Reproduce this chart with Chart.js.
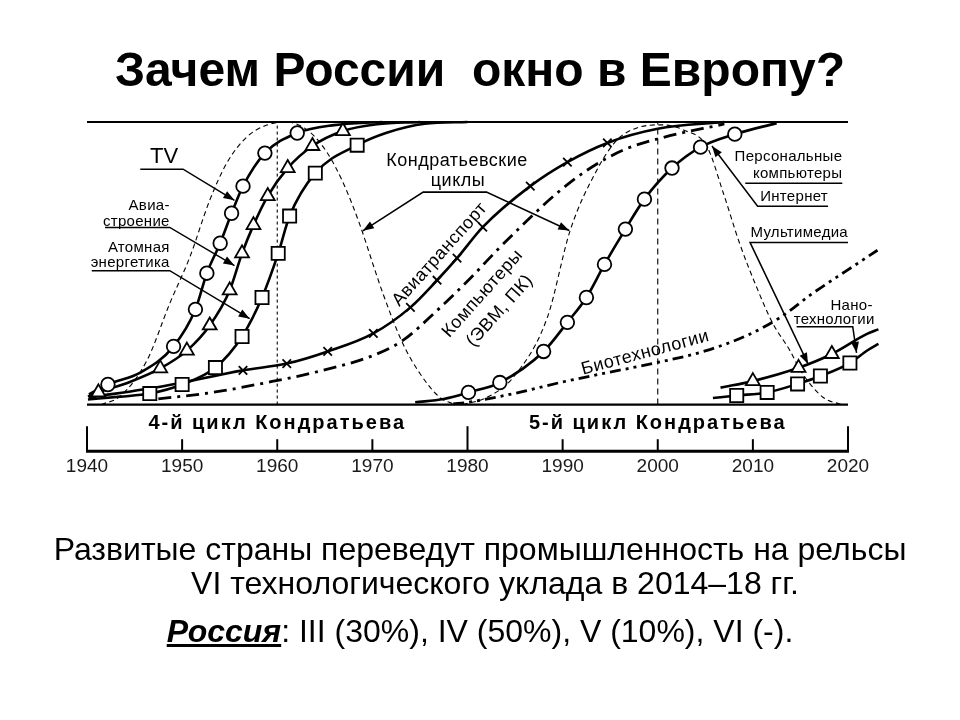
<!DOCTYPE html>
<html lang="ru">
<head>
<meta charset="utf-8">
<title>Зачем России окно в Европу?</title>
<script src="https://cdn.jsdelivr.net/npm/chart.js@4.4.1/dist/chart.umd.min.js"></script>
<style>
  html, body { margin: 0; padding: 0; background: #fff; }
  #page { position: relative; width: 960px; height: 720px; overflow: hidden;
          font-family: "Liberation Sans", Arial, sans-serif; color: #000; }
  #page canvas { position: absolute; left: 0; top: 0; }
  .title { position: absolute; left: 0; top: 42px; width: 960px; text-align: center;
           font-size: 48px; font-weight: bold; line-height: 56px; white-space: pre; }
  .line { position: absolute; left: 0; width: 960px; text-align: center;
          font-size: 32px; line-height: 36px; white-space: pre; }
</style>
</head>
<body>
<div id="page">
  <canvas id="chart" width="960" height="720"></canvas>
  <div class="title">Зачем России  окно в Европу?</div>
  <div class="line" style="top:531px">Развитые страны переведут промышленность на рельсы</div>
  <div class="line" style="top:565px; left:30px; width:930px">VI технологического уклада в 2014–18 гг.</div>
  <div class="line" style="top:613px"><b><i><u>Россия</u></i></b>: III (30%), IV (50%), V (10%), VI (-).</div>
</div>
<script>
// x = year, y = share of saturation (0 = bottom line, 100 = top line)
const yearTicks = [1940, 1950, 1960, 1970, 1980, 1990, 2000, 2010, 2020];
const cycleNames = ['4-й цикл Кондратьева', '5-й цикл Кондратьева'];
const cycleMiddles = [1960, 2000];

// TV (circles)
const tvMarkYears = [1942.2, 1949.1, 1951.4, 1952.6, 1954.0, 1955.2, 1956.4, 1958.7, 1962.1];
const tvMarkValues = [7.1, 20.6, 33.7, 46.5, 57.1, 67.7, 77.3, 89.0, 96.1];
const tvBendYears = [1940.2, 1945.6, 1966.0, 1971.0];
const tvBendValues = [3.6, 11.3, 98.9, 100];

// Авиастроение (triangles)
const aviaMarkYears = [1941.2, 1947.7, 1950.5, 1952.9, 1955.0, 1956.3, 1957.5, 1959.0, 1961.1, 1963.7, 1966.9];
const aviaMarkValues = [4.3, 12.8, 19.1, 28.0, 40.4, 53.5, 63.5, 73.8, 83.7, 91.5, 96.8];
const aviaBendYears = [1940.1, 1944.5, 1970.5, 1975.0];
const aviaBendValues = [2.8, 8.0, 99.2, 100];

// Атомная энергетика (squares)
const atomMarkYears = [1946.6, 1950.0, 1953.5, 1956.3, 1958.4, 1960.1, 1961.3, 1964.0, 1968.4];
const atomMarkValues = [3.9, 7.1, 13.1, 24.1, 37.9, 53.5, 66.7, 81.9, 91.8];
const atomBendYears = [1940.1, 1943.5, 1971.5, 1975.5, 1980.0];
const atomBendValues = [1.8, 2.8, 96.2, 99.4, 100];

// Авиатранспорт (crosses)
const airMarkYears = [1956.4, 1961.0, 1965.3, 1970.1, 1974.0, 1976.8, 1978.9, 1981.6, 1986.6, 1990.5, 1994.7];
const airMarkValues = [12.1, 14.5, 18.8, 25.2, 34.4, 44.0, 51.8, 62.8, 77.3, 85.8, 92.6];
const airBendYears = [1940.2, 1948.0, 2000.0, 2007.0];
const airBendValues = [2.5, 6.5, 97.6, 100];

// Компьютеры (ЭВМ, ПК), dash-dot
const compYears = [1947.5, 1953.2, 1958.9, 1963.8, 1970.1, 1973.2, 1976.8, 1980.3, 1983.1, 1986.3, 1989.4, 1992.6, 1996.4, 2000.3, 2007.0];
const compValues = [2.0, 4.3, 7.8, 11.3, 17.4, 22.7, 33.3, 44.7, 54.6, 65.2, 74.8, 83.0, 90.1, 94.3, 99.3];

// Персональные компьютеры / Интернет (circles)
const pcMarkYears = [1980.1, 1983.4, 1988.0, 1990.5, 1992.5, 1994.4, 1996.6, 1998.6, 2001.5, 2004.5, 2008.1];
const pcMarkValues = [4.3, 7.8, 18.8, 29.1, 37.9, 49.6, 62.1, 72.7, 83.7, 91.1, 95.7];
const pcBendYears = [1974.5, 1977.5, 2012.5];
const pcBendValues = [0.8, 2.0, 99.6];

// Биотехнологии, dash-dot-dot
const bioYears = [1978.5, 1980, 1985, 1990, 1995, 2000, 2005, 2009.4, 2012.9, 2016.3, 2019.9, 2023.1];
const bioValues = [0.2, 0.8, 4, 8, 11.5, 14.9, 19, 24.5, 30.9, 39.4, 47.5, 54.6];

// Мультимедиа (triangles) and Нанотехнологии (squares)
const mmMarkYears = [2010.0, 2014.8, 2018.3, 2022.0];
const mmMarkValues = [8.3, 13.0, 17.9, 25.0];
const mmBendYears = [2006.6, 2023.2];
const mmBendValues = [6.0, 26.6];
const nanoMarkYears = [2008.3, 2011.5, 2014.7, 2017.1, 2020.2, 2022.1];
const nanoMarkValues = [3.2, 4.3, 7.3, 10.1, 14.7, 19.3];
const nanoBendYears = [2005.8, 2023.2];
const nanoBendValues = [2.3, 21.5];

// Kondratiev waves (thin dashed)
const wave4Years = [1941.5, 1943.5, 1946.3, 1948.7, 1950.8, 1952.9, 1954.7, 1956.8, 1958.9, 1961.0, 1963.4, 1965.2, 1966.9, 1968.7, 1970.1, 1971.1, 1973.2, 1975.0, 1977.1, 1978.7];
const wave4Values = [0, 3, 15.6, 35.8, 52.1, 72.3, 85.5, 94.7, 98.9, 100, 96.5, 89.4, 78.7, 63.5, 49.3, 39.4, 21.6, 11.0, 2.5, 0];
const wave5Years = [1979.5, 1982.0, 1984.8, 1988.4, 1990.8, 1993.6, 1995.7, 1997.8, 2000.3, 2002.7, 2005.2, 2006.9, 2008.6, 2010.4, 2012.1, 2013.9, 2015.0, 2017.4, 2019.3];
const wave5Values = [0, 2.5, 9.6, 30.9, 61.7, 83.0, 93.6, 97.9, 99.0, 97.2, 91.1, 74.8, 57.1, 41.5, 28.7, 19.1, 12.1, 2.5, 0];

const yLow = -16.5;

function pts(xs, ys) {
  return xs.map((x, i) => ({ x: x, y: ys[i] }));
}
function merged(ax, ay, bx, by) {
  return pts(ax, ay).concat(pts(bx, by)).sort((a, b) => a.x - b.x);
}
function curve(data, width, dash) {
  return {
    data: data, borderColor: '#000', borderWidth: width, borderDash: dash || [],
    pointRadius: 0, cubicInterpolationMode: 'monotone', fill: false, clip: false, order: 2
  };
}
function marks(xs, ys, style, r) {
  return {
    data: pts(xs, ys), showLine: false, pointStyle: style, pointRadius: r,
    pointBackgroundColor: '#fff', pointBorderColor: '#000', pointBorderWidth: 1.8,
    clip: false, order: 1
  };
}

const datasets = [
  curve(pts(wave4Years, wave4Values), 1.1, [5, 3.5]),
  curve(pts(wave5Years, wave5Values), 1.1, [5, 3.5]),
  curve(merged(tvMarkYears, tvMarkValues, tvBendYears, tvBendValues), 2.6),
  curve(merged(aviaMarkYears, aviaMarkValues, aviaBendYears, aviaBendValues), 2.6),
  curve(merged(atomMarkYears, atomMarkValues, atomBendYears, atomBendValues), 2.6),
  curve(merged(airMarkYears, airMarkValues, airBendYears, airBendValues), 2.6),
  curve(pts(compYears, compValues), 2.8, [13, 6, 3, 6]),
  curve(merged(pcMarkYears, pcMarkValues, pcBendYears, pcBendValues), 2.6),
  curve(pts(bioYears, bioValues), 2.8, [11, 5, 3, 5, 3, 5]),
  curve(merged(mmMarkYears, mmMarkValues, mmBendYears, mmBendValues), 2.6),
  curve(merged(nanoMarkYears, nanoMarkValues, nanoBendYears, nanoBendValues), 2.6),
  marks(tvMarkYears, tvMarkValues, 'circle', 6.8),
  marks(aviaMarkYears, aviaMarkValues, 'triangle', 8),
  marks(atomMarkYears, atomMarkValues, 'rect', 9.3),
  marks(airMarkYears, airMarkValues, 'crossRot', 6),
  marks(pcMarkYears, pcMarkValues, 'circle', 6.8),
  marks(mmMarkYears, mmMarkValues, 'triangle', 8),
  marks(nanoMarkYears, nanoMarkValues, 'rect', 9.3)
];

// callouts in chart coordinates [year, value]
const arrows = [
  { path: [[1945.6, 83.3], [1950.1, 83.3], [1955.5, 72.3]], head: true },
  { path: [[1941.9, 62.7], [1948.7, 62.7], [1955.5, 49.2]], head: true },
  { path: [[1940.5, 47.4], [1948.7, 47.4], [1957.1, 30.4]], head: true },
  { path: [[1982.05, 75.1], [1975.3, 75.1], [1969.0, 61.5]], head: true },
  { path: [[1975.3, 75.1], [1982.05, 75.1], [1990.7, 61.6]], head: true },
  { path: [[2009.2, 78.3], [2019.4, 78.3]], head: false },
  { path: [[2017.9, 70.2], [2010.5, 70.2], [2005.7, 91.5]], head: true },
  { path: [[2020.0, 57.4], [2009.7, 57.4], [2015.8, 14.4]], head: true },
  { path: [[2014.6, 27.5], [2020.5, 27.5], [2020.9, 18.3]], head: true }
];

const notes = [
  { text: 'TV', at: [1948.1, 87.6], size: 22, align: 'center', gap: 0 },
  { text: 'Авиа-', at: [1948.7, 70.2], size: 15, align: 'right', gap: 0.3 },
  { text: 'строение', at: [1948.7, 64.5], size: 15, align: 'right', gap: 0.3 },
  { text: 'Атомная', at: [1948.7, 55.6], size: 15, align: 'right', gap: 0.3 },
  { text: 'энергетика', at: [1948.7, 50.3], size: 15, align: 'right', gap: 0.3 },
  { text: 'Кондратьевские', at: [1978.9, 86.1], size: 18, align: 'center', gap: 0.5 },
  { text: 'циклы', at: [1979.0, 79.0], size: 18, align: 'center', gap: 0.5 },
  { text: 'Авиатранспорт', at: [1977.1, 53.1], size: 18, align: 'center', gap: 0.5, angle: -48 },
  { text: 'Компьютеры', at: [1981.6, 39.3], size: 18, align: 'center', gap: 0.5, angle: -48 },
  { text: '(ЭВМ, ПК)', at: [1983.4, 33.2], size: 18, align: 'center', gap: 0.5, angle: -48 },
  { text: 'Биотехнологии', at: [1998.7, 18.3], size: 18, align: 'center', gap: 0.5, angle: -15 },
  { text: 'Персональные', at: [2019.4, 87.6], size: 15, align: 'right', gap: 0.3 },
  { text: 'компьютеры', at: [2019.4, 81.5], size: 15, align: 'right', gap: 0.3 },
  { text: 'Интернет', at: [2017.9, 73.4], size: 15, align: 'right', gap: 0.3 },
  { text: 'Мультимедиа', at: [2020.0, 60.6], size: 15, align: 'right', gap: 0.3 },
  { text: 'Нано-', at: [2022.6, 35.0], size: 15, align: 'right', gap: 0.3 },
  { text: 'технологии', at: [2022.8, 30.0], size: 15, align: 'right', gap: 0.3 }
];

const FONT = '"Liberation Sans", Arial, sans-serif';

function seg(ctx, x1, y1, x2, y2) {
  ctx.beginPath(); ctx.moveTo(x1, y1); ctx.lineTo(x2, y2); ctx.stroke();
}

const sketch = {
  id: 'sketch',
  beforeDatasetsDraw(chart) {
    const ctx = chart.ctx, x = chart.scales.x, y = chart.scales.y;
    const X = v => x.getPixelForValue(v), Y = v => y.getPixelForValue(v);
    const first = yearTicks[0], last = yearTicks[yearTicks.length - 1];
    ctx.save();
    ctx.strokeStyle = '#000';
    ctx.lineWidth = 2;
    seg(ctx, X(first), Y(100), X(last), Y(100));
    ctx.lineWidth = 2.4;
    seg(ctx, X(first), Y(0), X(last), Y(0));
    ctx.lineWidth = 1.1;
    ctx.setLineDash([3, 3]);
    seg(ctx, X(1960), Y(0), X(1960), Y(100));
    ctx.setLineDash([6, 4]);
    seg(ctx, X(2000), Y(0), X(2000), Y(100));
    ctx.setLineDash([]);

    // time axis with cycle bands
    const base = Y(yLow);
    ctx.lineWidth = 3;
    seg(ctx, X(first) - 1, base, X(last) + 1, base);
    ctx.lineWidth = 2;
    yearTicks.forEach(t => {
      const major = (t - first) % 40 === 0;
      seg(ctx, X(t), base, X(t), base - (major ? 25 : 12));
    });
    ctx.fillStyle = '#000';
    ctx.font = 'bold 20px ' + FONT;
    ctx.letterSpacing = '2px';
    ctx.textAlign = 'center';
    ctx.textBaseline = 'middle';
    cycleNames.forEach((name, i) => ctx.fillText(name, X(cycleMiddles[i]), Y(-6.6)));
    ctx.restore();
  },
  afterDatasetsDraw(chart) {
    const ctx = chart.ctx, x = chart.scales.x, y = chart.scales.y;
    const X = v => x.getPixelForValue(v), Y = v => y.getPixelForValue(v);
    ctx.save();
    ctx.strokeStyle = '#000';
    ctx.fillStyle = '#000';
    ctx.lineWidth = 1.5;
    arrows.forEach(a => {
      const p = a.path.map(q => [X(q[0]), Y(q[1])]);
      ctx.beginPath();
      ctx.moveTo(p[0][0], p[0][1]);
      for (let i = 1; i < p.length; i++) ctx.lineTo(p[i][0], p[i][1]);
      ctx.stroke();
      if (a.head) {
        const [x1, y1] = p[p.length - 2], [x2, y2] = p[p.length - 1];
        const ang = Math.atan2(y2 - y1, x2 - x1), L = 11, W = 4;
        ctx.beginPath();
        ctx.moveTo(x2, y2);
        ctx.lineTo(x2 - L * Math.cos(ang) + W * Math.sin(ang), y2 - L * Math.sin(ang) - W * Math.cos(ang));
        ctx.lineTo(x2 - L * Math.cos(ang) - W * Math.sin(ang), y2 - L * Math.sin(ang) + W * Math.cos(ang));
        ctx.closePath();
        ctx.fill();
      }
    });
    ctx.textBaseline = 'middle';
    notes.forEach(n => {
      ctx.save();
      ctx.font = n.size + 'px ' + FONT;
      ctx.letterSpacing = n.gap + 'px';
      ctx.textAlign = n.align;
      ctx.translate(X(n.at[0]), Y(n.at[1]));
      if (n.angle) ctx.rotate(n.angle * Math.PI / 180);
      ctx.fillText(n.text, 0, 0);
      ctx.restore();
    });
    ctx.restore();
  }
};

new Chart(document.getElementById('chart'), {
  type: 'line',
  data: { datasets: datasets },
  options: {
    responsive: false,
    animation: false,
    events: [],
    layout: { padding: { left: 87, right: 112, top: 122, bottom: 238 } },
    plugins: { legend: { display: false }, tooltip: { enabled: false } },
    scales: {
      x: {
        type: 'linear',
        afterDataLimits: s => { s.min = yearTicks[0]; s.max = yearTicks[yearTicks.length - 1]; },
        afterBuildTicks: s => { s.ticks = yearTicks.map(v => ({ value: v })); },
        grid: { display: false, drawTicks: false },
        border: { display: false },
        ticks: {
          padding: 4, maxRotation: 0, autoSkip: false, color: '#1a1a1a',
          font: { size: 19, family: FONT },
          callback: v => String(v)
        }
      },
      y: { display: false, min: yLow, max: 100 }
    }
  },
  plugins: [sketch]
});
</script>
</body>
</html>
